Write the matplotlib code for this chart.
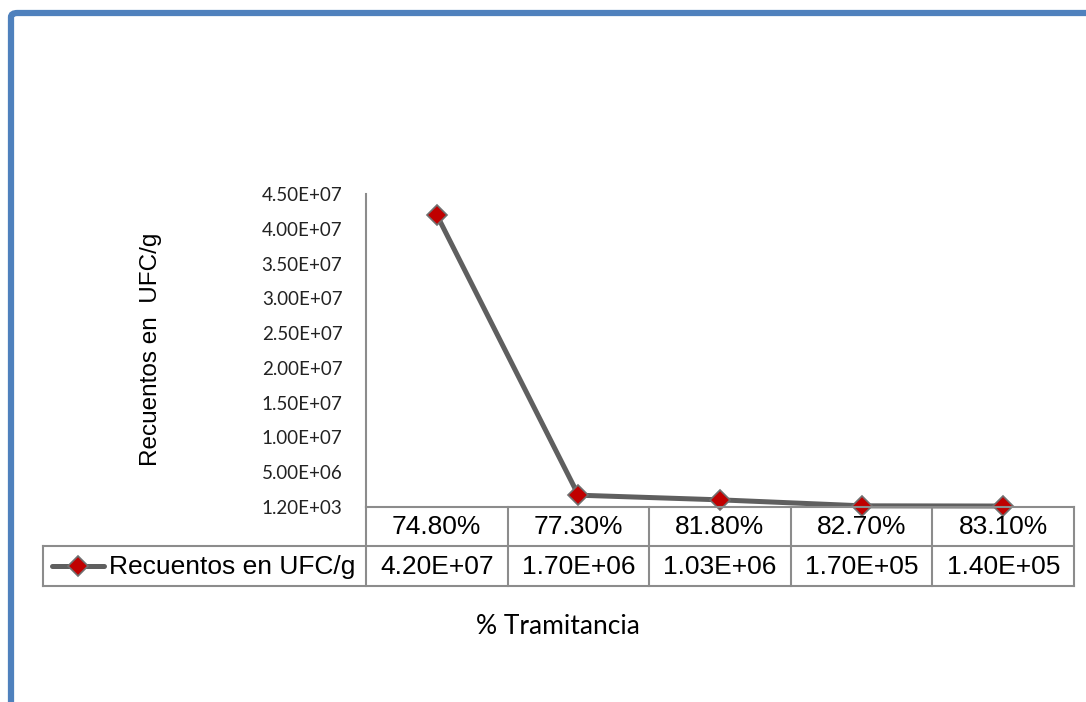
import matplotlib
matplotlib.use("Agg")
import matplotlib.pyplot as plt
from matplotlib.lines import Line2D
from matplotlib.patches import FancyBboxPatch

# ---- data ----
categories = ["74.80%", "77.30%", "81.80%", "82.70%", "83.10%"]
values = [4.20e7, 1.70e6, 1.03e6, 1.70e5, 1.40e5]
series_name = "Recuentos en UFC/g"
y_label = "Recuentos en  UFC/g"
x_title = "% Tramitancia"
y_min, y_step, n_steps = 1.20e3, 5.0e6, 9

W, H = 1086, 702
fig = plt.figure(figsize=(W / 100, H / 100), dpi=100)

def fx(px):
    return px / W

def fy(py):
    return 1 - py / H

# outer blue border (left + top)
border = FancyBboxPatch((fx(11), fy(760)), fx(1200), fy(13) - fy(760),
                        boxstyle="round,pad=0,rounding_size=0.006",
                        transform=fig.transFigure, fill=False,
                        edgecolor="#4F81BD", linewidth=4.5, clip_on=False)
fig.patches.append(border)

line_color = "#5F5F5F"
marker_face = "#C00000"
grid_gray = "#8C8C8C"

# plot area
L, R, T, B = 366, 1074, 194, 507
ax = fig.add_axes([fx(L), fy(B), fx(R - L), fy(T) - fy(B)])
x = list(range(len(categories)))
ax.plot(x, values, color=line_color, linewidth=3.6, marker="D",
        markersize=10, markerfacecolor=marker_face, markeredgecolor="#707070",
        markeredgewidth=1.2, solid_joinstyle="round", zorder=3, clip_on=False)
ax.set_xlim(-0.5, len(categories) - 0.5)
ticks = [y_min + k * y_step for k in range(n_steps + 1)]
ax.set_ylim(ticks[0], ticks[-1])
ax.set_yticks(ticks)
ax.set_yticklabels([f"{t:.2E}" for t in ticks], family="Lato", fontsize=13.5,
                   color="#222222")
ax.tick_params(axis="y", length=0, pad=17)
ax.set_xticks([])
for s in ["top", "right", "bottom"]:
    ax.spines[s].set_visible(False)
ax.spines["left"].set_color(grid_gray)
ax.spines["left"].set_linewidth(1.5)

# ---- data table ----
row1_top, row_mid, row_bot = 507, 546, 586
leg_left = 43
col_w = (R - L) / len(categories)
lk = dict(transform=fig.transFigure, color=grid_gray, linewidth=1.5)
fig.add_artist(Line2D([fx(L), fx(R)], [fy(row1_top)] * 2, **lk))
fig.add_artist(Line2D([fx(leg_left), fx(R)], [fy(row_mid)] * 2, **lk))
fig.add_artist(Line2D([fx(leg_left), fx(R)], [fy(row_bot)] * 2, **lk))
fig.add_artist(Line2D([fx(leg_left)] * 2, [fy(row_mid), fy(row_bot)], **lk))
for i in range(len(categories) + 1):
    xx = L + i * col_w
    fig.add_artist(Line2D([fx(xx)] * 2, [fy(row1_top), fy(row_bot)], **lk))

tf = dict(family="Liberation Sans", fontsize=19, color="black",
          ha="center", va="center")
for i, (c, v) in enumerate(zip(categories, values)):
    cx = L + (i + 0.5) * col_w
    fig.text(fx(cx), fy((row1_top + row_mid) / 2 + 1), c, **tf)
    fig.text(fx(cx), fy((row_mid + row_bot) / 2 + 1), f"{v:.2E}", **tf)

# legend key in table
ly = (row_mid + row_bot) / 2
fig.add_artist(Line2D([fx(52), fx(104)], [fy(ly)] * 2, transform=fig.transFigure,
                      color=line_color, linewidth=3.6, solid_capstyle="round"))
fig.add_artist(Line2D([fx(78)], [fy(ly)], transform=fig.transFigure,
                      marker="D", markersize=10, markerfacecolor=marker_face,
                      markeredgecolor="#707070", markeredgewidth=1.2, linestyle="none"))
fig.text(fx(109), fy(ly + 1), series_name, family="Liberation Sans", fontsize=19,
         ha="left", va="center", color="black")

# axis titles
fig.text(fx(151), fy(349), y_label, rotation=90, family="Liberation Sans",
         fontsize=17.5, ha="center", va="center", color="black")
fig.text(fx(558), fy(627), x_title, family="Lato", fontsize=19,
         ha="center", va="center", color="black")

fig.savefig("out.png", dpi=100)
